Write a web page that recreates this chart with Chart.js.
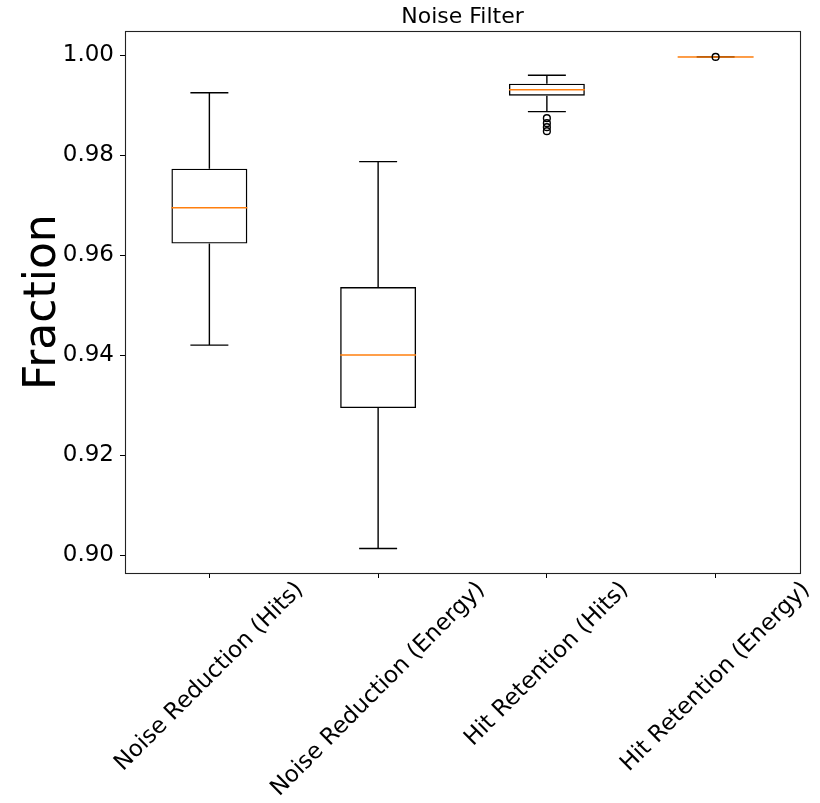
<!DOCTYPE html>
<html>
<head>
<meta charset="utf-8">
<script src="https://cdn.jsdelivr.net/npm/chart.js@4"></script>
<style>
  html, body { margin: 0; padding: 0; background: #fff; }
  #wrap { width: 820px; height: 803px; }
</style>
</head>
<body>
<div id="wrap"><canvas id="boxChart"></canvas></div>
<script>
// box plot summary per metric
const categories = ["Noise Reduction (Hits)", "Noise Reduction (Energy)", "Hit Retention (Hits)", "Hit Retention (Energy)"];
const whiskerLow = [0.9420, 0.9013, 0.9887, 0.99962];
const q1 = [0.9623, 0.9294, 0.9919, 0.99962];
const medians = [0.9695, 0.9400, 0.9931, 0.99966];
const q3 = [0.9773, 0.9536, 0.9943, 0.99970];
const whiskerHigh = [0.9925, 0.9787, 0.9960, 0.99970];

// fliers
const outlierCategory = ["Hit Retention (Hits)", "Hit Retention (Hits)", "Hit Retention (Hits)", "Hit Retention (Hits)", "Hit Retention (Energy)"];
const outlierValues = [0.9874, 0.9864, 0.9856, 0.9848, 0.99966];

const yTicks = [0.90, 0.92, 0.94, 0.96, 0.98, 1.00];

const FONT = "'DejaVu Sans', sans-serif";
Chart.defaults.font.family = FONT;
Chart.defaults.color = "#000";

// whiskers, caps and medians, drawn right after the boxes
const boxPlotLines = {
  id: "boxPlotLines",
  afterDatasetDraw(chart, args) {
    if (args.index !== 0) return;
    const { ctx } = chart;
    const x = chart.scales.x, y = chart.scales.y;
    const bars = args.meta.data;
    ctx.save();
    categories.forEach((c, i) => {
      const cx = x.getPixelForValue(i);
      const half = bars[i].width / 2;
      const capHalf = half / 2;
      const yLo = y.getPixelForValue(whiskerLow[i]);
      const yHi = y.getPixelForValue(whiskerHigh[i]);
      ctx.strokeStyle = "#000";
      ctx.lineWidth = 1.4;
      ctx.beginPath();
      ctx.moveTo(cx, y.getPixelForValue(q1[i]));
      ctx.lineTo(cx, yLo);
      ctx.moveTo(cx, y.getPixelForValue(q3[i]));
      ctx.lineTo(cx, yHi);
      ctx.moveTo(cx - capHalf, yLo);
      ctx.lineTo(cx + capHalf, yLo);
      ctx.moveTo(cx - capHalf, yHi);
      ctx.lineTo(cx + capHalf, yHi);
      ctx.stroke();

      const ym = y.getPixelForValue(medians[i]);
      ctx.strokeStyle = "#ff7f0e";
      ctx.lineWidth = 1.5;
      ctx.beginPath();
      ctx.moveTo(cx - half, ym);
      ctx.lineTo(cx + half, ym);
      ctx.stroke();
    });
    ctx.restore();
  }
};

// axes frame and the rotated category labels (centred under each tick)
const frameAndLabels = {
  id: "frameAndLabels",
  afterDraw(chart) {
    const { ctx, chartArea: a } = chart;
    const x = chart.scales.x;
    ctx.save();
    ctx.strokeStyle = "#222";
    ctx.lineWidth = 1.1;
    ctx.strokeRect(Math.round(a.left) + 0.5, Math.round(a.top) + 0.5,
      Math.round(a.right - a.left), Math.round(a.bottom - a.top));

    ctx.font = "23px " + FONT;
    ctx.fillStyle = "#000";
    ctx.textAlign = "center";
    ctx.textBaseline = "middle";
    const h = 26;
    const top = a.bottom + 4;
    categories.forEach((label, i) => {
      const w = ctx.measureText(label).width;
      const ext = (w + h) * Math.SQRT1_2;
      ctx.save();
      ctx.translate(x.getPixelForValue(i), top + ext / 2);
      ctx.rotate(-Math.PI / 4);
      ctx.fillText(label, 0, 0);
      ctx.restore();
    });
    ctx.restore();
  }
};

new Chart(document.getElementById("boxChart"), {
  type: "bar",
  data: {
    labels: categories,
    datasets: [
      {
        label: "box",
        data: q1.map((v, i) => [v, q3[i]]),
        backgroundColor: "rgba(255,255,255,0)",
        borderColor: "#000",
        borderWidth: 1.4,
        borderSkipped: false,
        barPercentage: 0.45,
        categoryPercentage: 1.0,
        order: 2
      },
      {
        type: "line",
        label: "fliers",
        data: outlierCategory.map((c, i) => ({ x: c, y: outlierValues[i] })),
        showLine: false,
        pointRadius: 3.4,
        pointBorderWidth: 1.4,
        pointBorderColor: "#000",
        pointBackgroundColor: "rgba(255,255,255,0)",
        order: 1
      }
    ]
  },
  options: {
    responsive: true,
    maintainAspectRatio: false,
    animation: false,
    layout: { padding: { right: 20, left: 0, top: 0, bottom: 0 } },
    plugins: {
      legend: { display: false },
      tooltip: { enabled: false },
      title: {
        display: true,
        text: "Noise Filter",
        fullSize: false,
        font: { size: 22, weight: "normal", lineHeight: 1.1 },
        color: "#000",
        padding: { top: 5, bottom: 2 }
      }
    },
    scales: {
      x: {
        offset: true,
        grid: { offset: false, drawOnChartArea: false, tickLength: 5, tickColor: "#000", color: "#000" },
        border: { display: false },
        ticks: { display: false },
        afterFit: (s) => { s.height = 230; }
      },
      y: {
        min: 0.8964,
        max: 1.0048,
        afterBuildTicks: (s) => { s.ticks = yTicks.map((v) => ({ value: v })); },
        ticks: { callback: (v) => Number(v).toFixed(2), font: { size: 23 }, color: "#000", padding: 6 },
        grid: { drawOnChartArea: false, tickLength: 5, tickColor: "#000", color: "#000" },
        border: { display: false },
        title: { display: true, text: "Fraction", font: { size: 44 }, color: "#000", padding: { top: 17, bottom: 0 } },
        afterFit: (s) => { s.width = 125; }
      }
    }
  },
  plugins: [boxPlotLines, frameAndLabels]
});
</script>
</body>
</html>
